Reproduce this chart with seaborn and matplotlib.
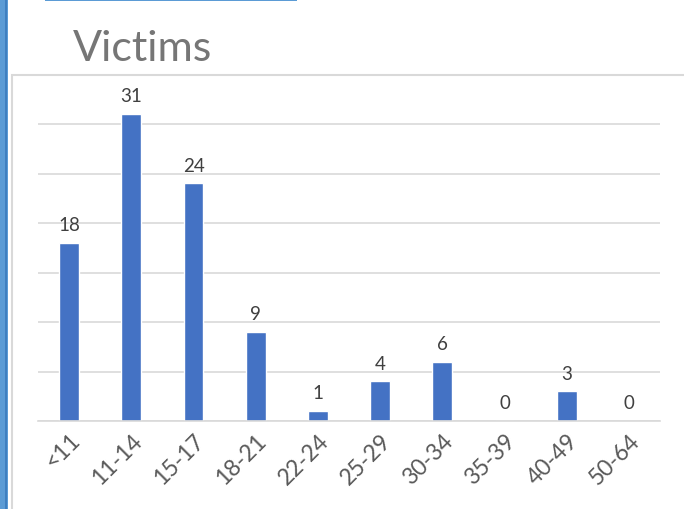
import matplotlib
matplotlib.use("Agg")
import matplotlib.pyplot as plt
import seaborn as sns
import pandas as pd
from matplotlib.patches import Rectangle

# Data
age_groups = ["<11", "11-14", "15-17", "18-21", "22-24", "25-29", "30-34", "35-39", "40-49", "50-64"]
victims = [18, 31, 24, 9, 1, 4, 6, 0, 3, 0]

df = pd.DataFrame({"age": age_groups, "victims": victims})

sns.set_style("white")
plt.rcParams["font.family"] = ["Lato", "DejaVu Sans"]

W, H = 684, 510
fig = plt.figure(figsize=(W / 100, H / 100), dpi=100)

# window chrome: blue strip on the left, blue line at the top, chart border
fig.patches.append(Rectangle((0, 0), 8 / W, 1, transform=fig.transFigure,
                             facecolor="#5B9BD5", edgecolor="none"))
fig.patches.append(Rectangle((5 / W, 0), 2 / W, 1, transform=fig.transFigure,
                             facecolor="#3F7FC0", edgecolor="none"))
fig.patches.append(Rectangle((45 / W, 1 - 2 / H), 252 / W, 2 / H, transform=fig.transFigure,
                             facecolor="#5B9BD5", edgecolor="none"))
fig.patches.append(Rectangle((12 / W, -0.05), 1.1, 1 - 76 / H + 0.05, transform=fig.transFigure,
                             facecolor="none", edgecolor="#D9D9D9", linewidth=1.5))

ax = fig.add_axes([38 / W, 1 - 422 / H, 622 / W, 346.5 / H])
sns.barplot(data=df, x="age", y="victims", color="#4472C4", width=0.32,
            saturation=1, ax=ax)

ax.set_ylim(0, 35)
ax.set_yticks(range(0, 36, 5))
ax.yaxis.grid(True, color="#D9D9D9", linewidth=1.2)
ax.set_axisbelow(True)
ax.set_yticklabels([])
ax.tick_params(axis="y", length=0)
ax.tick_params(axis="x", length=0, pad=6, labelsize=16.5, labelcolor="#595959")
for s in ["top", "right", "left"]:
    ax.spines[s].set_visible(False)
ax.spines["bottom"].set_color("#D9D9D9")
ax.spines["bottom"].set_linewidth(1.2)
ax.set_xlabel("")
ax.set_ylabel("")
plt.setp(ax.get_xticklabels(), rotation=45, ha="right", rotation_mode="anchor")

for i, v in enumerate(victims):
    ax.annotate(str(v), (i, v), xytext=(0, 7), textcoords="offset points",
                ha="center", va="bottom", fontsize=13.5, color="#404040")

fig.text(73 / W, 1 - 61 / H, "Victims", fontsize=31, color="#767676",
         ha="left", va="baseline")

fig.savefig("out.png", dpi=100)
